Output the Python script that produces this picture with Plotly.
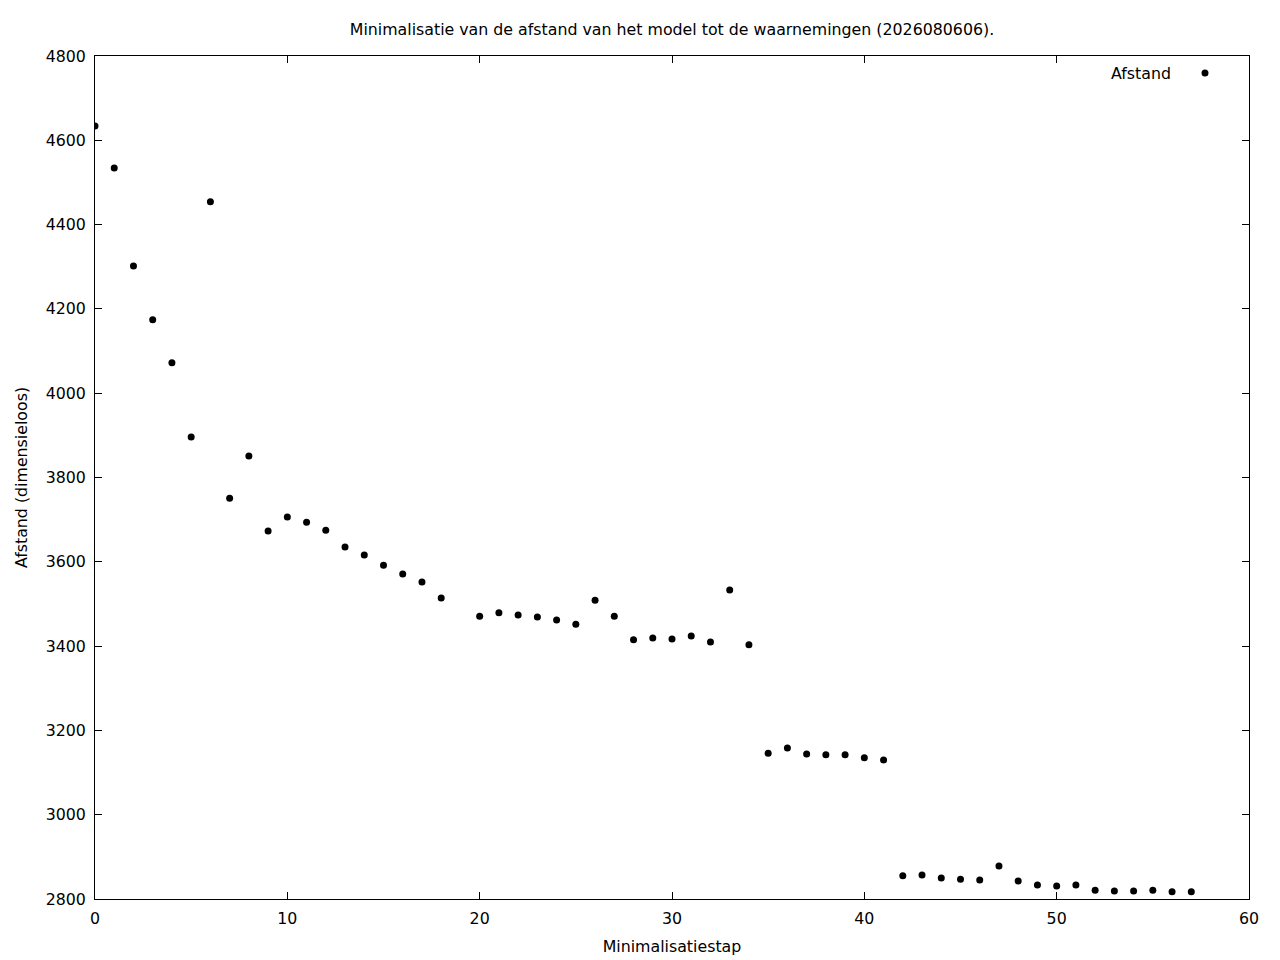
import plotly.graph_objects as go

steps = list(range(0, 19)) + list(range(20, 58))
afstand = [
    4634, 4534, 4302, 4174, 4072, 3896, 4454, 3751, 3851, 3673,
    3706, 3694, 3675, 3635, 3616, 3592, 3571, 3552, 3514,
    3471, 3479, 3474, 3469, 3462, 3452, 3509, 3471, 3415, 3419,
    3417, 3424, 3410, 3533, 3403, 3146, 3158, 3144, 3142, 3142,
    3135, 3130, 2855, 2857, 2850, 2847, 2845, 2878, 2843, 2833,
    2831, 2833, 2821, 2819, 2819, 2821, 2817, 2817,
]

font = "DejaVu Sans, sans-serif"
fsize = 15.8

fig = go.Figure()
fig.add_trace(go.Scatter(
    x=steps, y=afstand, mode="markers", name="Afstand",
    marker=dict(size=7, color="black"),
    hoverinfo="x+y",
))

axis_style = dict(
    showline=True, linecolor="black", linewidth=1, mirror="allticks",
    ticks="inside", ticklen=7, tickwidth=1, tickcolor="black",
    showgrid=False, zeroline=False, automargin=False,
    tickfont=dict(family=font, size=fsize, color="black"),
)

fig.update_layout(
    width=1280, height=960,
    margin=dict(l=95, r=31, t=56, b=61),
    paper_bgcolor="white", plot_bgcolor="white",
    showlegend=False,
    font=dict(family=font, size=fsize, color="black"),
    title=dict(
        text="Minimalisatie van de afstand van het model tot de waarnemingen (2026080606).",
        x=0.5, xref="paper", y=1 - 29 / 960, yanchor="middle",
        font=dict(family=font, size=fsize, color="black"),
    ),
    xaxis=dict(range=[0, 60], dtick=10, tick0=0, ticklabelstandoff=5,
               title=dict(text="Minimalisatiestap", standoff=13,
                          font=dict(family=font, size=fsize, color="black")),
               **axis_style),
    yaxis=dict(range=[2800, 4800], dtick=200, tick0=2800, ticklabelstandoff=5,
               title=dict(text="Afstand (dimensieloos)", standoff=14,
                          font=dict(family=font, size=fsize, color="black")),
               **axis_style),
    annotations=[dict(
        text="Afstand", xref="paper", yref="paper", x=(1173 - 95) / 1154, y=1 - 17 / 843,
        xanchor="right", yanchor="middle", showarrow=False,
        font=dict(family=font, size=fsize, color="black"),
    )],
    shapes=[dict(
        type="circle", xref="paper", yref="paper",
        x0=(1205 - 95 - 3.5) / 1154, x1=(1205 - 95 + 3.5) / 1154,
        y0=1 - (17 + 3.5) / 843, y1=1 - (17 - 3.5) / 843,
        fillcolor="black", line=dict(color="black", width=0),
    )],
)

fig.write_html("out.html", config={"displayModeBar": False},
               post_script="document.body.style.margin='0';")
